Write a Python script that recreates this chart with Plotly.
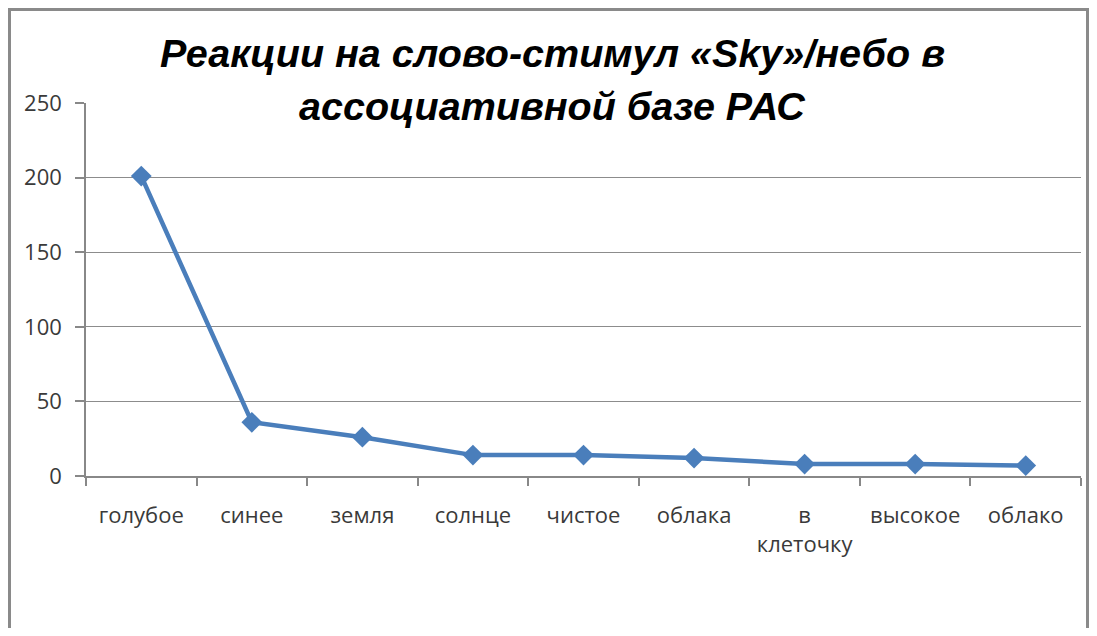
import plotly.graph_objects as go

categories = ["голубое", "синее", "земля", "солнце", "чистое", "облака", "в<br>клеточку", "высокое", "облако"]
values = [201, 36, 26, 14, 14, 12, 8, 8, 7]
y_ticks = [0, 50, 100, 150, 200, 250]
title_lines = ["Реакции на слово-стимул «Sky»/небо в", "ассоциативной базе РАС"]

OFF = 8  # page body margin
W, H = 1097 - 2 * OFF, 636 - 2 * OFF
PL, PR, PT, PB = 86, 1081, 103, 476  # plot area in screen px
L, T = PL - OFF, PT - OFF
pw, ph = PR - PL, PB - PT
R = W - L - pw
B = H - T - ph

def px_x(x):
    return (x - PL) / pw

def px_y(y):
    return (PB - y) / ph

fig = go.Figure()
fig.add_trace(go.Scatter(
    x=categories, y=values, mode="lines+markers",
    line=dict(color="#4A7EBB", width=4.5),
    marker=dict(symbol="diamond", size=16, color="#4A7EBB"),
    showlegend=False, hoverinfo="x+y",
))

tick_font = dict(family="Open Sans, Liberation Sans, sans-serif", size=22, color="#3a3a3a")

bx0, bx1, by_top, by_bot = 9.5, 1087.5, 9.5, 660
border = dict(color="#8a8a8a", width=3)
shapes = [
    dict(type="line", xref="paper", yref="paper", x0=px_x(bx0), x1=px_x(bx0),
         y0=px_y(by_bot), y1=px_y(by_top), line=border),
    dict(type="line", xref="paper", yref="paper", x0=px_x(bx1), x1=px_x(bx1),
         y0=px_y(by_bot), y1=px_y(by_top), line=border),
    dict(type="line", xref="paper", yref="paper", x0=px_x(bx0 - 1.5), x1=px_x(bx1 + 1.5),
         y0=px_y(by_top), y1=px_y(by_top), line=border),
]

fig.update_layout(
    width=W, height=H,
    margin=dict(l=L, r=R, t=T, b=B, pad=0),
    paper_bgcolor="white", plot_bgcolor="white",
    xaxis=dict(
        type="category", tickson="boundaries", ticks="outside", ticklen=8,
        tickcolor="#888888", tickwidth=1.5, showgrid=False, showline=True,
        linecolor="#888888", linewidth=1.5, tickfont=tick_font,
        ticklabelstandoff=19, range=[-0.5, len(categories) - 0.5], fixedrange=True,
    ),
    yaxis=dict(
        range=[0, 250], tickvals=y_ticks, ticks="outside", ticklen=9,
        tickcolor="#888888", tickwidth=1.5, showgrid=True, gridcolor="#8c8c8c",
        gridwidth=1.2, showline=True, linecolor="#888888", linewidth=1.5,
        zeroline=False, tickfont=tick_font, ticklabelstandoff=9, fixedrange=True,
    ),
    shapes=shapes,
)

title_font = dict(family="Liberation Sans, sans-serif", size=39.5, color="black")
for txt, base_y in zip(title_lines, [69, 122]):
    fig.add_annotation(
        text="<b><i>" + txt + "</i></b>", xref="paper", yref="paper",
        x=px_x(552), y=px_y(base_y + 8), xanchor="center", yanchor="bottom",
        showarrow=False, font=title_font,
    )

fig.write_html("out.html")
